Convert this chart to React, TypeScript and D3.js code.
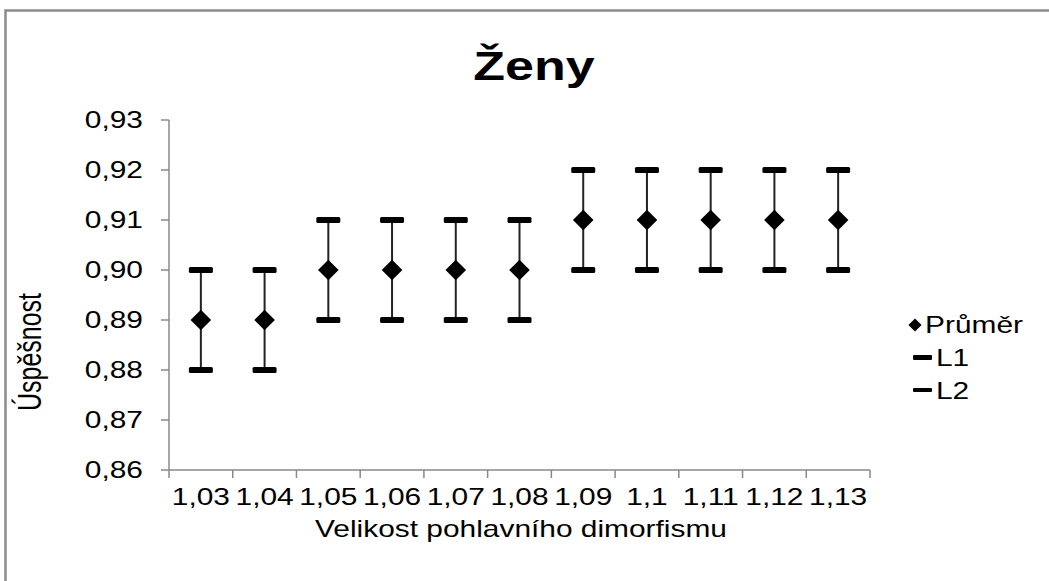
import React from "react";
import * as d3 from "d3";

const categories = ["1,03", "1,04", "1,05", "1,06", "1,07", "1,08", "1,09", "1,1", "1,11", "1,12", "1,13"];
const meanValues = [0.89, 0.89, 0.9, 0.9, 0.9, 0.9, 0.91, 0.91, 0.91, 0.91, 0.91];
const l1Values = [0.9, 0.9, 0.91, 0.91, 0.91, 0.91, 0.92, 0.92, 0.92, 0.92, 0.92];
const l2Values = [0.88, 0.88, 0.89, 0.89, 0.89, 0.89, 0.9, 0.9, 0.9, 0.9, 0.9];
const yTicks = [0.86, 0.87, 0.88, 0.89, 0.9, 0.91, 0.92, 0.93];
const legendLabels = ["Průměr", "L1", "L2"];

const FONT = "'Liberation Sans', Arial, sans-serif";
const SX = 1.3;

function SText(props: {
  x: number;
  y: number;
  size: number;
  anchor?: string;
  weight?: string;
  rotate?: number;
  children: React.ReactNode;
}) {
  const { x, y, size, anchor = "start", weight = "normal", rotate = 0, children } = props;
  return (
    <text
      transform={`translate(${x},${y}) scale(${SX},1)${rotate ? ` rotate(${rotate})` : ""}`}
      fontFamily={FONT}
      fontSize={size}
      fontWeight={weight}
      textAnchor={anchor}
      fill="#000"
    >
      {children}
    </text>
  );
}

export default function App() {
  const W = 1049;
  const H = 581;
  const left = 169;
  const right = 870;
  const top = 120;
  const bottom = 470;

  const x = d3.scaleBand<string>().domain(categories).range([left, right]).padding(0);
  const y = d3.scaleLinear().domain([0.86, 0.93]).range([bottom, top]);
  const cx = (c: string) => (x(c) as number) + x.bandwidth() / 2;
  const diamond = d3.symbol().type(d3.symbolDiamond2).size(270)() as string;

  const xTickPositions = [...categories.map((c) => x(c) as number), right];

  return (
    <svg
      width={W}
      height={H}
      style={{ position: "absolute", left: 0, top: 0, background: "#fff" }}
    >
      <rect x={0} y={0} width={W} height={H} fill="#fff" />
      <rect x={5.5} y={10.5} width={W + 20} height={H + 20} fill="none" stroke="#8c8c8c" strokeWidth={2.5} />

      <SText x={534} y={80} size={40} anchor="middle" weight="bold">Ženy</SText>

      {/* Y axis */}
      <line x1={left} x2={left} y1={top} y2={bottom} stroke="#888" strokeWidth={1.5} />
      {yTicks.map((t) => (
        <g key={t}>
          <line x1={left - 8} x2={left} y1={y(t)} y2={y(t)} stroke="#888" strokeWidth={1.5} />
          <SText x={143} y={y(t) + 8} size={23} anchor="end">
            {d3.format(".2f")(t).replace(".", ",")}
          </SText>
        </g>
      ))}

      {/* X axis */}
      <line x1={left} x2={right} y1={bottom} y2={bottom} stroke="#888" strokeWidth={1.5} />
      {xTickPositions.map((p, i) => (
        <line key={i} x1={p} x2={p} y1={bottom} y2={bottom + 8} stroke="#888" strokeWidth={1.5} />
      ))}
      {categories.map((c) => (
        <SText key={c} x={cx(c)} y={505} size={23} anchor="middle">{c}</SText>
      ))}

      <SText x={521} y={537} size={23} anchor="middle">Velikost pohlavního dimorfismu</SText>
      <SText x={41} y={352} size={25} anchor="middle" rotate={-90}>Úspěšnost</SText>

      {/* Error bars */}
      {categories.map((c, i) => (
        <g key={c}>
          <line x1={cx(c)} x2={cx(c)} y1={y(l1Values[i])} y2={y(l2Values[i])} stroke="#222" strokeWidth={2} />
          <rect x={cx(c) - 12} y={y(l1Values[i]) - 3} width={24} height={6} rx={1.5} fill="#000" />
          <rect x={cx(c) - 12} y={y(l2Values[i]) - 3} width={24} height={6} rx={1.5} fill="#000" />
          <path d={diamond} transform={`translate(${cx(c)},${y(meanValues[i])})`} fill="#000" />
        </g>
      ))}

      {/* Legend */}
      <path d={d3.symbol().type(d3.symbolDiamond2).size(110)() as string} transform="translate(915,325)" fill="#000" />
      <SText x={925} y={333} size={23}>{legendLabels[0]}</SText>
      <rect x={913} y={355} width={19} height={5} rx={1} fill="#000" />
      <SText x={936} y={366} size={23}>{legendLabels[1]}</SText>
      <rect x={913} y={388} width={19} height={4} rx={1} fill="#000" />
      <SText x={936} y={399} size={23}>{legendLabels[2]}</SText>
    </svg>
  );
}
